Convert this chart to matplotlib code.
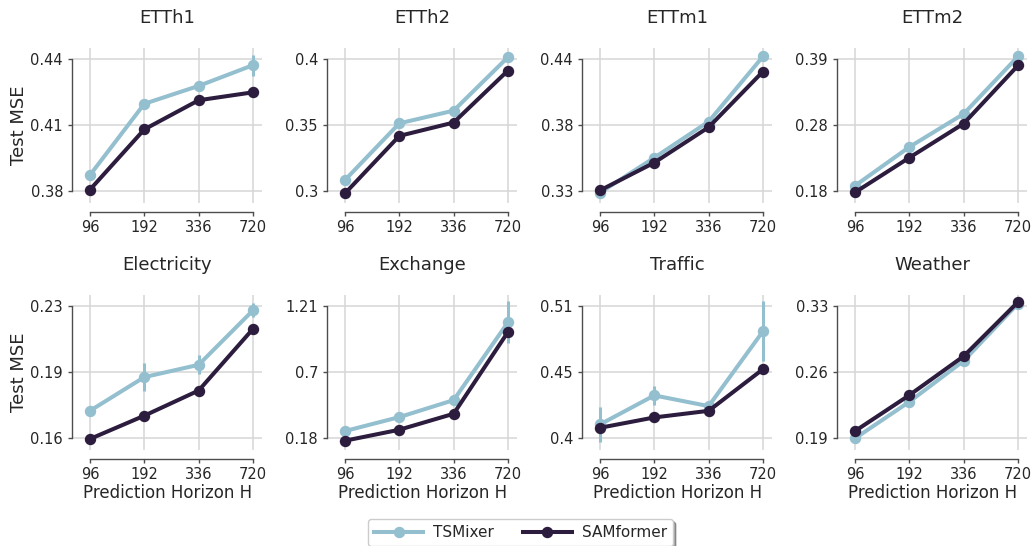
import matplotlib
matplotlib.use("Agg")
import matplotlib.pyplot as plt
import numpy as np

# ---------------- data ----------------
horizons = ["96", "192", "336", "720"]
titles = ["ETTh1", "ETTh2", "ETTm1", "ETTm2",
          "Electricity", "Exchange", "Traffic", "Weather"]

tsmixer_etth1 = [0.3874, 0.4197, 0.4278, 0.4372]
samformer_etth1 = [0.3808, 0.4081, 0.4213, 0.4249]
tsmixer_err_etth1 = [0.0, 0.0, 0.0, 0.0048]
yrange_etth1 = [0.38, 0.44]
ylabels_etth1 = ["0.38", "0.41", "0.44"]

tsmixer_etth2 = [0.3086, 0.3514, 0.3610, 0.4014]
samformer_etth2 = [0.2985, 0.3419, 0.3520, 0.3913]
tsmixer_err_etth2 = [0.0, 0.0, 0.0, 0.0]
yrange_etth2 = [0.30, 0.40]
ylabels_etth2 = ["0.3", "0.35", "0.4"]

tsmixer_ettm1 = [0.3289, 0.3580, 0.3880, 0.4421]
samformer_ettm1 = [0.3308, 0.3539, 0.3833, 0.4296]
tsmixer_err_ettm1 = [0.0, 0.0, 0.0, 0.0]
yrange_ettm1 = [0.33, 0.44]
ylabels_ettm1 = ["0.33", "0.38", "0.44"]

tsmixer_ettm2 = [0.1890, 0.2504, 0.3029, 0.3940]
samformer_ettm2 = [0.1784, 0.2335, 0.2875, 0.3797]
tsmixer_err_ettm2 = [0.0, 0.0, 0.0, 0.0]
yrange_ettm2 = [0.18, 0.39]
ylabels_ettm2 = ["0.18", "0.28", "0.39"]

tsmixer_elec = [0.1746, 0.1924, 0.1989, 0.2277]
samformer_elec = [0.1597, 0.1720, 0.1853, 0.2179]
tsmixer_err_elec = [0.0, 0.0072, 0.0050, 0.0037]
yrange_elec = [0.16, 0.23]
ylabels_elec = ["0.16", "0.19", "0.23"]

tsmixer_exch = [0.2370, 0.3456, 0.4777, 1.0830]
samformer_exch = [0.1619, 0.2473, 0.3715, 1.0080]
tsmixer_err_exch = [0.0, 0.0, 0.0, 0.162]
yrange_exch = [0.18, 1.21]
ylabels_exch = ["0.18", "0.7", "1.21"]

tsmixer_traffic = [0.4116, 0.4357, 0.4268, 0.4890]
samformer_traffic = [0.4088, 0.4174, 0.4229, 0.4575]
tsmixer_err_traffic = [0.0143, 0.0076, 0.0015, 0.0249]
yrange_traffic = [0.40, 0.51]
ylabels_traffic = ["0.4", "0.45", "0.51"]

tsmixer_weather = [0.1900, 0.2287, 0.2720, 0.3325]
samformer_weather = [0.1977, 0.2357, 0.2769, 0.3342]
tsmixer_err_weather = [0.0, 0.0, 0.0, 0.0]
yrange_weather = [0.19, 0.33]
ylabels_weather = ["0.19", "0.26", "0.33"]

panels = [
    (tsmixer_etth1, samformer_etth1, tsmixer_err_etth1, yrange_etth1, ylabels_etth1),
    (tsmixer_etth2, samformer_etth2, tsmixer_err_etth2, yrange_etth2, ylabels_etth2),
    (tsmixer_ettm1, samformer_ettm1, tsmixer_err_ettm1, yrange_ettm1, ylabels_ettm1),
    (tsmixer_ettm2, samformer_ettm2, tsmixer_err_ettm2, yrange_ettm2, ylabels_ettm2),
    (tsmixer_elec, samformer_elec, tsmixer_err_elec, yrange_elec, ylabels_elec),
    (tsmixer_exch, samformer_exch, tsmixer_err_exch, yrange_exch, ylabels_exch),
    (tsmixer_traffic, samformer_traffic, tsmixer_err_traffic, yrange_traffic, ylabels_traffic),
    (tsmixer_weather, samformer_weather, tsmixer_err_weather, yrange_weather, ylabels_weather),
]

# ---------------- style ----------------
C_TS = "#93bfcf"
C_SAM = "#2c1c3d"
TXT = "#262626"
plt.rcParams["font.family"] = ["DejaVu Sans"]
plt.rcParams["text.color"] = TXT
plt.rcParams["axes.labelcolor"] = TXT

W, H = 1034, 546
fig = plt.figure(figsize=(W / 100, H / 100), dpi=100)

col_left = [73, 328, 583, 838]
ax_w = 189
row_top = [48, 295]
ax_h = 154.5

x = np.arange(len(horizons))
handles = None
for i, (ts, sam, err, yr, ylab) in enumerate(panels):
    r, c = divmod(i, 4)
    left = col_left[c] / W
    bottom = 1 - (row_top[r] + ax_h) / H
    ax = fig.add_axes([left, bottom, ax_w / W, ax_h / H])

    ax.errorbar(x, ts, yerr=err, fmt="none", ecolor=C_TS, elinewidth=2.2,
                capsize=0, zorder=2)
    l1, = ax.plot(x, ts, "-o", color=C_TS, lw=2.9, ms=7.2, zorder=3,
                  label="TSMixer")
    l2, = ax.plot(x, sam, "-o", color=C_SAM, lw=2.9, ms=7.2, zorder=4,
                  label="SAMformer")
    if handles is None:
        handles = [l1, l2]

    lo, hi = yr
    rng = hi - lo
    ax.set_ylim(lo - 0.084 * rng, hi + 0.083 * rng)
    ax.set_yticks(np.linspace(lo, hi, 3))
    ax.set_yticklabels(ylab)
    ax.set_xlim(-0.313, 3.166)
    ax.set_xticks(x)
    ax.set_xticklabels(horizons)

    ax.grid(True, color="#d6d6d6", lw=1.1, zorder=0)
    ax.set_axisbelow(True)
    for s in ["top", "right"]:
        ax.spines[s].set_visible(False)
    ax.spines["left"].set_position(("outward", 1))
    ax.spines["bottom"].set_position(("outward", 6.6))
    ax.spines["left"].set_bounds(lo, hi)
    ax.spines["bottom"].set_bounds(0, 3)
    for s in ["left", "bottom"]:
        ax.spines[s].set_color("#4d4d4d")
        ax.spines[s].set_linewidth(1.0)
    ax.tick_params(direction="out", length=2.8, width=1, color="#4d4d4d",
                   labelsize=10.5, labelcolor=TXT, pad=3.4)

    ax.set_title(titles[i], fontsize=13, pad=18, color=TXT)
    if c == 0:
        ax.set_ylabel("Test MSE", fontsize=13, labelpad=2)
    if r == 1:
        ax.set_xlabel("Prediction Horizon H", fontsize=12, labelpad=1.5)

leg = fig.legend(handles=handles, labels=["TSMixer", "SAMformer"],
                 loc="upper center", bbox_to_anchor=(0.5034, 1 - 519 / H),
                 ncol=2, fontsize=11, handlelength=3.2, handletextpad=0.65,
                 columnspacing=1.9, frameon=True, fancybox=True, shadow=True,
                 borderaxespad=0)
leg.get_frame().set_edgecolor("#cccccc")
leg.get_frame().set_linewidth(1.0)

fig.savefig("out.png", dpi=100)
